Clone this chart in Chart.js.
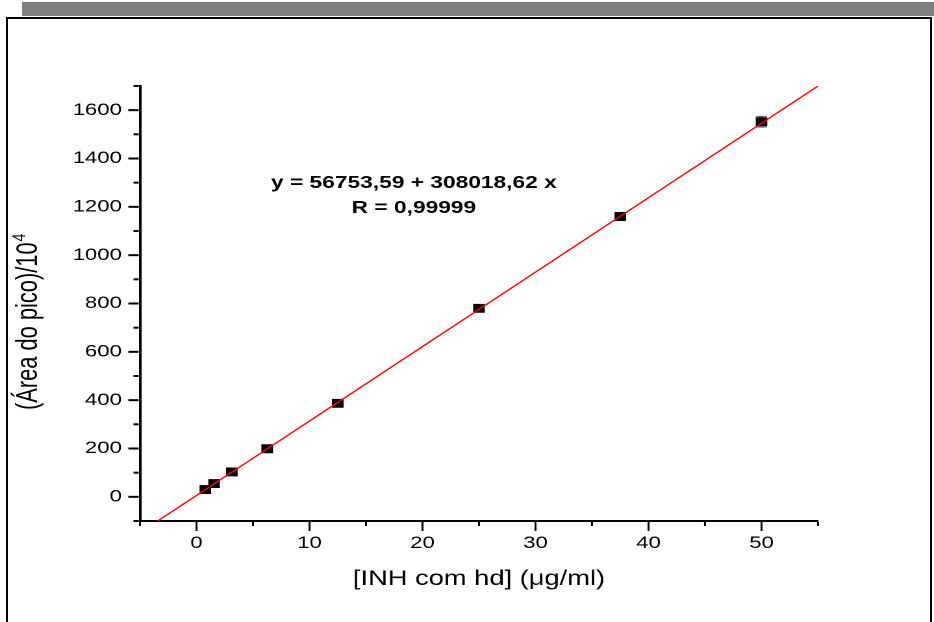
<!DOCTYPE html>
<html lang="pt">
<head>
    <meta charset="UTF-8">
    <title>Curva de calibração INH</title>
    <style>
        html, body {
            margin: 0;
            padding: 0;
            width: 934px;
            height: 622px;
            overflow: hidden;
            background: #fff;
        }
        #shade {
            position: absolute;
            left: 22px;
            top: 2px;
            width: 912px;
            height: 14px;
            background: #808080;
        }
        #frame {
            position: absolute;
            left: 6px;
            top: 17px;
            width: 922px;
            height: 700px;
            border: 2px solid #000;
            background: #fff;
        }
        #chart {
            position: absolute;
            left: 0;
            top: 0;
            transform-origin: 0 0;
            transform: scaleX(1.29903);
        }
    </style>
</head>
<body>
    <div id="shade"></div>
    <div id="frame"></div>
    <canvas id="chart" width="719" height="622"></canvas>

    <script src="https://cdn.jsdelivr.net/npm/chart.js"></script>
    <script>
        // INH concentration (ug/ml) and peak area / 10^4
        const concX = [0.78, 1.56, 3.125, 6.25, 12.5, 25, 37.5, 50];
        const areaY = [30, 55, 103, 199, 387, 780, 1160, 1552];
        const areaErr = [1, 1, 2, 2, 4, 5, 8, 22];

        // linear fit: y = 56753,59 + 308018,62 x  (plotted in units of 10^4)
        const fitIntercept = 5.675359;
        const fitSlope = 30.801862;
        const fitX = [-5, 55];

        const xTickLabels = [0, 10, 20, 30, 40, 50];
        const yTickLabels = [0, 200, 400, 600, 800, 1000, 1200, 1400, 1600];

        const FONT = "'Liberation Sans', Arial, sans-serif";

        const fitPoints = fitX.map(x => ({ x: x, y: fitIntercept + fitSlope * x }));
        const dataPoints = concX.map((x, i) => ({ x: x, y: areaY[i] }));

        // drawn under the square markers, so only the long bars show
        const errorBars = {
            id: 'errorBars',
            beforeDatasetDraw(chart, args) {
                if (args.index !== 1) return;
                const { ctx, scales: { x, y } } = chart;
                ctx.save();
                ctx.strokeStyle = '#666';
                ctx.lineWidth = 1.2;
                concX.forEach((cx, i) => {
                    const px = x.getPixelForValue(cx);
                    const top = y.getPixelForValue(areaY[i] + areaErr[i]);
                    const bot = y.getPixelForValue(areaY[i] - areaErr[i]);
                    ctx.beginPath();
                    ctx.moveTo(px, top); ctx.lineTo(px, bot);
                    ctx.moveTo(px - 4, top); ctx.lineTo(px + 4, top);
                    ctx.moveTo(px - 4, bot); ctx.lineTo(px + 4, bot);
                    ctx.stroke();
                });
                ctx.restore();
            }
        };

        const decorations = {
            id: 'decorations',
            afterDraw(chart) {
                const { ctx, chartArea, scales: { x, y } } = chart;
                ctx.save();
                ctx.strokeStyle = '#000';

                // y ticks (major / minor)
                ctx.lineWidth = 2;
                y.ticks.forEach(t => {
                    const py = y.getPixelForValue(t.value);
                    const len = yTickLabels.includes(t.value) ? 8 : 4;
                    ctx.beginPath();
                    ctx.moveTo(chartArea.left - 1 - len, py);
                    ctx.lineTo(chartArea.left - 1, py);
                    ctx.stroke();
                });

                // x ticks
                ctx.lineWidth = 1.5;
                x.ticks.forEach(t => {
                    const px = x.getPixelForValue(t.value);
                    const len = xTickLabels.includes(t.value) ? 9 : 4;
                    ctx.beginPath();
                    ctx.moveTo(px, chartArea.bottom + 1);
                    ctx.lineTo(px, chartArea.bottom + 1 + len);
                    ctx.stroke();
                });

                ctx.fillStyle = '#000';

                // x title
                ctx.font = '21px ' + FONT;
                ctx.textAlign = 'center';
                ctx.textBaseline = 'alphabetic';
                ctx.fillText('[INH com hd] (\u03BCg/ml)', (chartArea.left + chartArea.right) / 2, 585);

                // fit equation
                ctx.font = 'bold 17.5px ' + FONT;
                ctx.fillText('y = 56753,59 + 308018,62 x', 318.6, 188);
                ctx.fillText('R = 0,99999', 318.6, 213);

                // y title (rotated, with superscript)
                ctx.translate(28.5, 410);
                ctx.rotate(-Math.PI / 2);
                ctx.scale(0.95, 1);
                ctx.textAlign = 'left';
                ctx.font = '23px ' + FONT;
                const main = '(\u00C1rea do pico)/10';
                ctx.fillText(main, 0, 0);
                const w = ctx.measureText(main).width;
                ctx.font = '15px ' + FONT;
                ctx.fillText('4', w + 1, -9);

                ctx.restore();
            }
        };

        new Chart(document.getElementById('chart'), {
            type: 'scatter',
            data: {
                datasets: [
                    {
                        data: fitPoints,
                        showLine: true,
                        borderColor: '#ff0000',
                        borderWidth: 1.3,
                        pointRadius: 0
                    },
                    {
                        data: dataPoints,
                        pointStyle: 'rect',
                        pointRadius: 6.3,
                        backgroundColor: '#000',
                        borderColor: '#000',
                        borderWidth: 0
                    }
                ]
            },
            options: {
                responsive: false,
                devicePixelRatio: 2,
                animation: false,
                layout: {
                    padding: { top: 86, right: 89.3, bottom: 0, left: 0 }
                },
                plugins: {
                    legend: { display: false },
                    tooltip: { enabled: false }
                },
                scales: {
                    x: {
                        type: 'linear',
                        min: -5,
                        max: 55,
                        afterFit(scale) { scale.height = 101; },
                        grid: { display: false, drawTicks: false },
                        border: { display: true, color: '#000', width: 2 },
                        ticks: {
                            stepSize: 5,
                            autoSkip: false,
                            maxRotation: 0,
                            padding: 12,
                            color: '#000',
                            font: { family: FONT, size: 17 },
                            callback: v => xTickLabels.includes(v) ? String(v) : ''
                        }
                    },
                    y: {
                        type: 'linear',
                        min: -100,
                        max: 1700,
                        afterFit(scale) { scale.width = 107.77; },
                        grid: { display: false, drawTicks: false },
                        border: { display: true, color: '#000', width: 2 },
                        ticks: {
                            stepSize: 100,
                            autoSkip: false,
                            padding: 14,
                            color: '#000',
                            font: { family: FONT, size: 17 },
                            callback: v => yTickLabels.includes(v) ? String(v) : ''
                        }
                    }
                }
            },
            plugins: [errorBars, decorations]
        });
    </script>
</body>
</html>
